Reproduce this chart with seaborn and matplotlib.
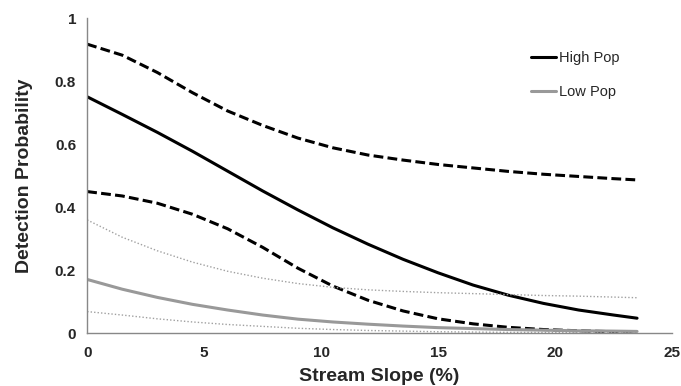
import matplotlib
matplotlib.use('Agg')
import matplotlib.pyplot as plt
import seaborn as sns

slope = [0, 1.5, 3, 4.5, 6, 7.5, 9, 10.5, 12, 13.5, 15, 16.5, 18, 19.5, 21, 22.5, 23.5]

# high population: estimate and CI
high_mean = [0.751, 0.695, 0.638, 0.578, 0.515, 0.452, 0.392, 0.335, 0.283, 0.235,
             0.192, 0.153, 0.121, 0.095, 0.074, 0.058, 0.048]
high_upper = [0.918, 0.883, 0.828, 0.764, 0.706, 0.660, 0.620, 0.589, 0.566, 0.550,
              0.536, 0.525, 0.514, 0.505, 0.498, 0.491, 0.487]
high_lower = [0.450, 0.436, 0.413, 0.378, 0.332, 0.273, 0.207, 0.150, 0.105, 0.071,
              0.046, 0.030, 0.019, 0.012, 0.008, 0.005, 0.004]

# low population: estimate and CI
low_mean = [0.171, 0.140, 0.114, 0.092, 0.074, 0.058, 0.045, 0.036, 0.029, 0.023,
            0.018, 0.015, 0.012, 0.010, 0.008, 0.007, 0.006]
low_upper = [0.360, 0.305, 0.262, 0.226, 0.197, 0.175, 0.158, 0.146, 0.138, 0.133,
             0.129, 0.126, 0.123, 0.120, 0.118, 0.115, 0.113]
low_lower = [0.069, 0.058, 0.046, 0.036, 0.028, 0.022, 0.016, 0.012, 0.009, 0.007,
             0.005, 0.004, 0.003, 0.003, 0.002, 0.002, 0.002]

sns.set_style('white')
plt.rcParams['font.family'] = ['Liberation Sans', 'DejaVu Sans']

fig = plt.figure(figsize=(6.81, 3.86), dpi=100)
ax = fig.add_axes([0.128, 0.1365, 0.859, 0.816])

dash = (0, (3.2, 1.4))
dots = (0, (1, 1.5))
sns.lineplot(x=slope, y=high_upper, ax=ax, color='black', lw=2.2, linestyle=dash)
sns.lineplot(x=slope, y=high_lower, ax=ax, color='black', lw=2.2, linestyle=dash)
sns.lineplot(x=slope, y=high_mean, ax=ax, color='black', lw=2.2, label='High Pop')
sns.lineplot(x=slope, y=low_upper, ax=ax, color='#a0a0a0', lw=1.0, linestyle=dots)
sns.lineplot(x=slope, y=low_lower, ax=ax, color='#a0a0a0', lw=1.0, linestyle=dots)
sns.lineplot(x=slope, y=low_mean, ax=ax, color='#999999', lw=2.2, label='Low Pop')

ax.set_xlim(0, 25)
ax.set_ylim(0, 1)
ax.set_xticks([0, 5, 10, 15, 20, 25])
ax.set_yticks([0, 0.2, 0.4, 0.6, 0.8, 1])
ax.set_yticklabels(['0', '0.2', '0.4', '0.6', '0.8', '1'])
for s in ['top', 'right']:
    ax.spines[s].set_visible(False)
for s in ['left', 'bottom']:
    ax.spines[s].set_color('#888888')
    ax.spines[s].set_linewidth(1.0)
ax.tick_params(axis='both', direction='out', length=4, width=1, color='#888888',
               labelsize=11, pad=4)
ax.tick_params(axis='x', pad=5)
for lab in ax.get_xticklabels() + ax.get_yticklabels():
    lab.set_fontweight('bold')

ax.set_xlabel('Stream Slope (%)', fontsize=14, fontweight='bold', labelpad=6)
ax.set_ylabel('Detection Probability', fontsize=14, fontweight='bold', labelpad=16)

ax.legend(loc='upper left', bbox_to_anchor=(0.737, 0.938), frameon=False, fontsize=10.5,
          handlelength=1.7, handletextpad=0.2, labelspacing=1.35)

fig.savefig('out.png', dpi=100)
